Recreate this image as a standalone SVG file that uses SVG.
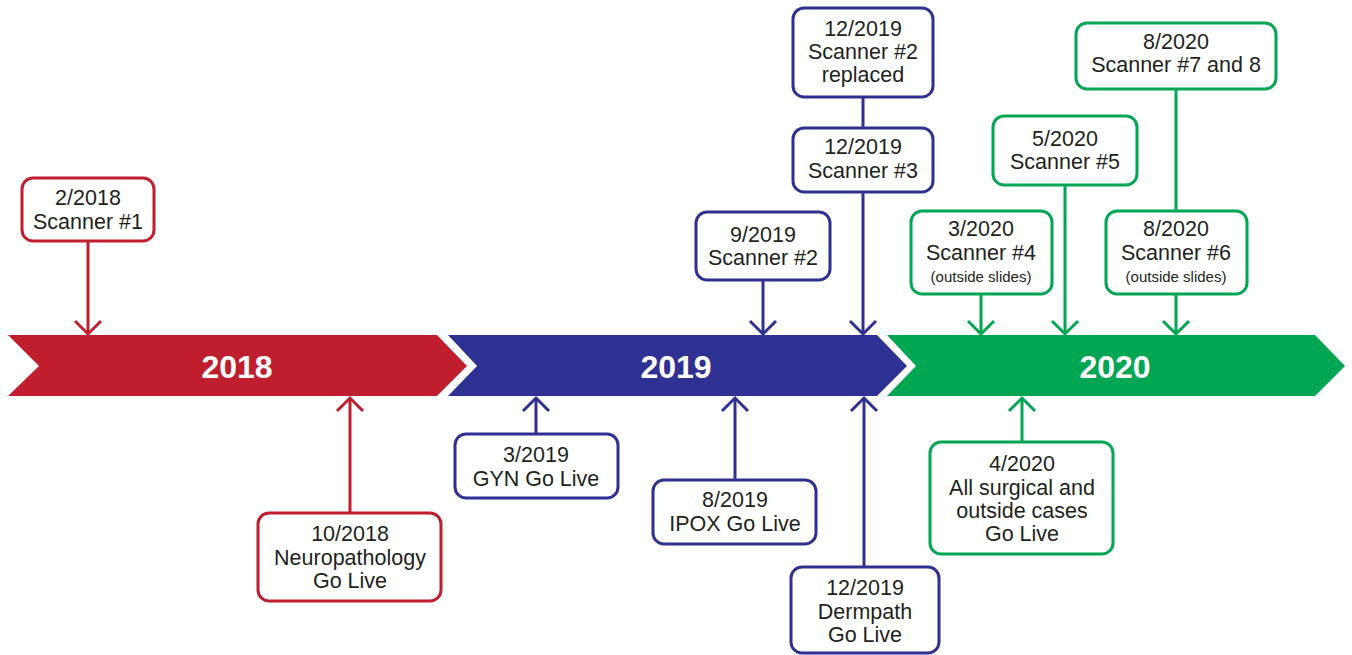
<svg xmlns="http://www.w3.org/2000/svg" width="1352" height="655" viewBox="0 0 1352 655">
<style>
text{font-family:"Liberation Sans",Arial,sans-serif;font-size:21.5px;fill:#231F20;text-anchor:middle}
.sm{font-size:15px}
.yr{font-size:32px;font-weight:bold;fill:#fff}
.box{fill:#fff;stroke-width:3}
.r{stroke:#BE1E2D}.b{stroke:#2E3192}.g{stroke:#00A651}
.ln{fill:none;stroke-width:3}
</style>
<defs>
<marker id="ar" markerUnits="userSpaceOnUse" markerWidth="32" markerHeight="32" viewBox="-16 -16 32 32" refX="0" refY="0" orient="auto"><path d="M-13,-13 L0,0 L-13,13" fill="none" stroke="#BE1E2D" stroke-width="3"/></marker>
<marker id="ab" markerUnits="userSpaceOnUse" markerWidth="32" markerHeight="32" viewBox="-16 -16 32 32" refX="0" refY="0" orient="auto"><path d="M-13,-13 L0,0 L-13,13" fill="none" stroke="#2E3192" stroke-width="3"/></marker>
<marker id="ag" markerUnits="userSpaceOnUse" markerWidth="32" markerHeight="32" viewBox="-16 -16 32 32" refX="0" refY="0" orient="auto"><path d="M-13,-13 L0,0 L-13,13" fill="none" stroke="#00A651" stroke-width="3"/></marker>
</defs>
<g id="timeline">
<path d="M8,335 L437,335 L467,366 L437,396 L8,396 L39,366 Z" fill="#BE1E2D"/>
<path d="M448,335 L877,335 L907,366 L877,396 L448,396 L477,366 Z" fill="#2E3192"/>
<path d="M887,335 L1315,335 L1345,366 L1315,396 L887,396 L916,366 Z" fill="#00A651"/>
<text class="yr" x="237" y="378">2018</text>
<text class="yr" x="676" y="378">2019</text>
<text class="yr" x="1115" y="378">2020</text>
</g>
<g id="connectors">
<line class="ln r" x1="88" y1="241" x2="88" y2="334" marker-end="url(#ar)"/>
<line class="ln r" x1="350" y1="513" x2="350" y2="398" marker-end="url(#ar)"/>
<line class="ln b" x1="536" y1="434" x2="536" y2="398" marker-end="url(#ab)"/>
<line class="ln b" x1="735" y1="480" x2="735" y2="398" marker-end="url(#ab)"/>
<line class="ln b" x1="864" y1="567" x2="864" y2="398" marker-end="url(#ab)"/>
<line class="ln b" x1="763" y1="280" x2="763" y2="334" marker-end="url(#ab)"/>
<line class="ln b" x1="863" y1="97" x2="863" y2="128"/>
<line class="ln b" x1="863" y1="192" x2="863" y2="334" marker-end="url(#ab)"/>
<line class="ln g" x1="981" y1="294" x2="981" y2="334" marker-end="url(#ag)"/>
<line class="ln g" x1="1065" y1="185" x2="1065" y2="334" marker-end="url(#ag)"/>
<line class="ln g" x1="1176" y1="89" x2="1176" y2="211"/>
<line class="ln g" x1="1176" y1="294" x2="1176" y2="334" marker-end="url(#ag)"/>
<line class="ln g" x1="1022" y1="442" x2="1022" y2="398" marker-end="url(#ag)"/>
</g>
<g id="n-2018-scanner1">
<rect class="box r" x="22" y="178" width="132" height="63" rx="11"/>
<text x="88" y="205">2/2018</text><text x="88" y="229">Scanner #1</text>
</g>
<g id="n-2018-neuro">
<rect class="box r" x="258" y="513" width="183" height="88" rx="11"/>
<text x="350" y="541">10/2018</text><text x="350" y="565">Neuropathology</text><text x="350" y="588">Go Live</text>
</g>
<g id="n-2019-gyn">
<rect class="box b" x="455" y="434" width="163" height="64" rx="11"/>
<text x="536" y="462">3/2019</text><text x="536" y="486">GYN Go Live</text>
</g>
<g id="n-2019-ipox">
<rect class="box b" x="653" y="480" width="163" height="64" rx="11"/>
<text x="735" y="507">8/2019</text><text x="735" y="531">IPOX Go Live</text>
</g>
<g id="n-2019-derm">
<rect class="box b" x="791" y="567" width="148" height="86" rx="11"/>
<text x="865" y="595">12/2019</text><text x="865" y="619">Dermpath</text><text x="865" y="642">Go Live</text>
</g>
<g id="n-2019-scanner2">
<rect class="box b" x="696" y="212" width="134" height="68" rx="11"/>
<text x="763" y="242">9/2019</text><text x="763" y="265">Scanner #2</text>
</g>
<g id="n-2019-scanner3">
<rect class="box b" x="793" y="128" width="140" height="64" rx="11"/>
<text x="863" y="154">12/2019</text><text x="863" y="178">Scanner #3</text>
</g>
<g id="n-2019-scanner2-replaced">
<rect class="box b" x="793" y="8" width="140" height="89" rx="11"/>
<text x="863" y="36">12/2019</text><text x="863" y="59">Scanner #2</text><text x="863" y="82">replaced</text>
</g>
<g id="n-2020-scanner4">
<rect class="box g" x="911" y="211" width="141" height="83" rx="11"/>
<text x="981" y="236">3/2020</text><text x="981" y="260">Scanner #4</text><text class="sm" x="981" y="282">(outside slides)</text>
</g>
<g id="n-2020-scanner5">
<rect class="box g" x="993" y="116" width="144" height="69" rx="11"/>
<text x="1065" y="146">5/2020</text><text x="1065" y="169">Scanner #5</text>
</g>
<g id="n-2020-scanner78">
<rect class="box g" x="1076" y="23" width="200" height="66" rx="11"/>
<text x="1176" y="49">8/2020</text><text x="1176" y="72">Scanner #7 and 8</text>
</g>
<g id="n-2020-scanner6">
<rect class="box g" x="1106" y="211" width="141" height="83" rx="11"/>
<text x="1176" y="236">8/2020</text><text x="1176" y="260">Scanner #6</text><text class="sm" x="1176" y="282">(outside slides)</text>
</g>
<g id="n-2020-all">
<rect class="box g" x="930" y="442" width="183" height="112" rx="11"/>
<text x="1022" y="471">4/2020</text><text x="1022" y="495">All surgical and</text><text x="1022" y="518">outside cases</text><text x="1022" y="541">Go Live</text>
</g>
</svg>
